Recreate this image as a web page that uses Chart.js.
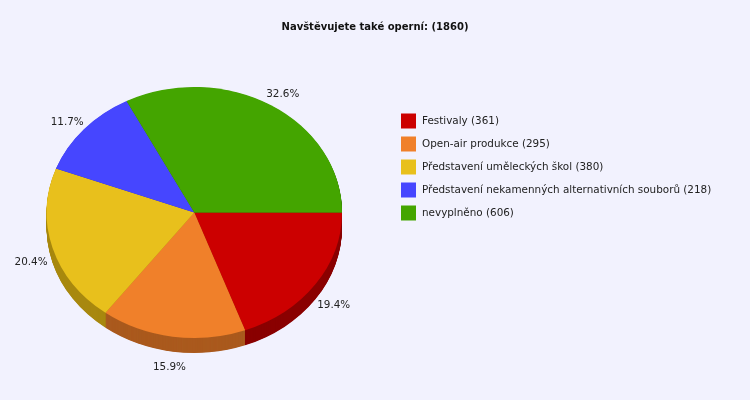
<!DOCTYPE html>
<html lang="cs">
<head>
    <meta charset="UTF-8">
    <title>Navštěvujete také operní</title>
    <script src="https://cdn.jsdelivr.net/npm/chart.js"></script>
    <style>
        html, body {
            margin: 0;
            padding: 0;
            background: #F2F2FE;
        }
        #wrap {
            width: 750px;
            height: 400px;
            position: relative;
        }
    </style>
</head>
<body>
    <div id="wrap"><canvas id="pieChart"></canvas></div>

    <script>
        // data
        const chartTitle = 'Navštěvujete také operní: (1860)';
        const categories = ['Festivaly', 'Open-air produkce', 'Představení uměleckých škol',
                            'Představení nekamenných alternativních souborů', 'nevyplněno'];
        const counts = [361, 295, 380, 218, 606];

        const topColors = ['#CC0000', '#F0802A', '#E8C01C', '#4646FF', '#44A500'];
        const sideColors = ['#8A0000', '#AA5A1E', '#A8880F', '#2E2EAA', '#2E7000'];

        const TILT = 125.5 / 147.7;   // vertical squash of the pie
        const DEPTH = 15;             // px of side wall

        const fontFamily = '"DejaVu Sans", sans-serif';

        // fake 3D: squash the pie and paint a darker wall under it
        const pie3d = {
            id: 'pie3d',
            beforeDatasetDraw(chart, args) {
                const ctx = chart.ctx;
                const arcs = args.meta.data;
                const cx = arcs[0].x, cy = arcs[0].y;
                ctx.save();
                ctx.translate(cx, cy);
                ctx.scale(1, TILT);
                ctx.translate(-cx, -cy);
                for (let d = DEPTH; d > 0; d -= 0.5) {
                    arcs.forEach((a, i) => {
                        const y = a.y + d / TILT;
                        ctx.beginPath();
                        ctx.moveTo(a.x, y);
                        ctx.arc(a.x, y, a.outerRadius, a.startAngle, a.endAngle);
                        ctx.closePath();
                        ctx.fillStyle = sideColors[i];
                        ctx.fill();
                    });
                }
            },
            afterDatasetDraw(chart) {
                chart.ctx.restore();
            },
            afterDraw(chart) {
                const ctx = chart.ctx;
                const arcs = chart.getDatasetMeta(0).data;
                const total = counts.reduce((s, v) => s + v, 0);

                ctx.save();
                // title
                ctx.fillStyle = '#111';
                ctx.font = 'bold 10px ' + fontFamily;
                ctx.textAlign = 'center';
                ctx.textBaseline = 'middle';
                ctx.fillText(chartTitle, 375, 27);

                // percentage labels round the pie
                ctx.font = '10.4px ' + fontFamily;
                ctx.fillStyle = '#222';
                arcs.forEach((a, i) => {
                    const mid = (a.startAngle + a.endAngle) / 2;
                    const x = a.x + 170 * Math.cos(mid);
                    const y = a.y + 8 + 148 * Math.sin(mid);
                    ctx.fillText((counts[i] / total * 100).toFixed(1) + '%', x, y);
                });

                // legend
                ctx.textAlign = 'left';
                categories.forEach((c, i) => {
                    const y = 121 + i * 23;
                    ctx.fillStyle = topColors[i];
                    ctx.fillRect(401, y - 7.5, 15, 15);
                    ctx.fillStyle = '#222';
                    ctx.fillText(c + ' (' + counts[i] + ')', 422, y);
                });
                ctx.restore();
            }
        };

        const chart = new Chart(document.getElementById('pieChart'), {
            type: 'pie',
            data: {
                labels: categories,
                datasets: [{
                    data: counts,
                    backgroundColor: topColors,
                    borderWidth: 0
                }]
            },
            options: {
                responsive: true,
                maintainAspectRatio: false,
                animation: false,
                rotation: 90,
                layout: {
                    padding: { left: 46.6, right: 408, top: 64.8, bottom: 39.8 }
                },
                plugins: {
                    legend: { display: false },
                    tooltip: { enabled: false }
                }
            },
            plugins: [pie3d]
        });
    </script>
</body>
</html>
